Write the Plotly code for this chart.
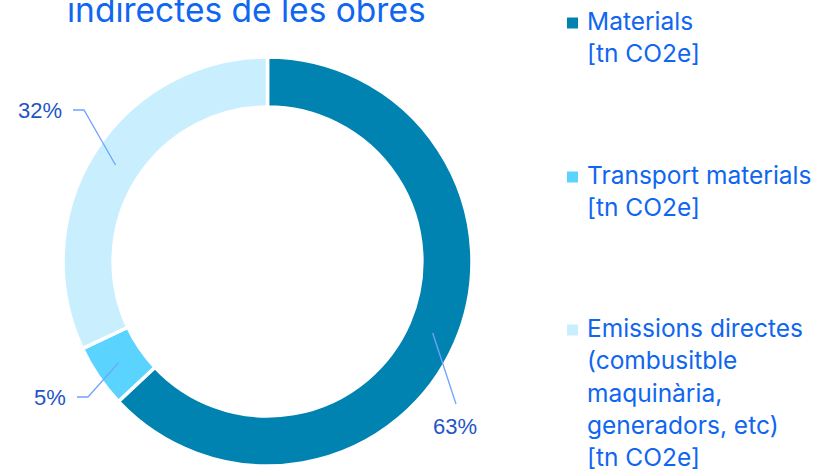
import math
import plotly.graph_objects as go

# ---- data ----
categories = ["Materials [tn CO2e]", "Transport materials [tn CO2e]",
              "Emissions directes (combusitble maquinària, generadors, etc) [tn CO2e]"]
shares = [63, 5, 32]
legend_lines = [
    ["Materials", "[tn CO2e]"],
    ["Transport materials", "[tn CO2e]"],
    ["Emissions directes", "(combusitble", "maquinària,", "generadors, etc)", "[tn CO2e]"],
]
title_text = "indirectes de les obres"

# ---- styles / layout ----
W, H = 815, 469
colors = ["#0083B0", "#5BD3FF", "#C9EFFF"]
CX, CY, R = 267.5, 261.5, 204.5
HOLE = 0.755
LBL_COLOR = "#1F55C6"
LEADER_COLOR = "#6FA3FF"
TXT_BLUE = "#0F66F0"

def px(x):
    return x / W

def py(y):
    return 1 - y / H

fig = go.Figure()
fig.add_trace(go.Pie(
    labels=categories, values=shares, hole=HOLE, sort=False,
    direction="clockwise", rotation=0,
    marker=dict(colors=colors, line=dict(color="white", width=3.5)),
    textinfo="none", showlegend=False, hoverinfo="label+percent",
    domain=dict(x=[px(CX - R), px(CX + R)], y=[py(CY + R), py(CY - R)]),
))

# data labels with leader lines (start point computed from slice mid-angle)
label_layout = [  # (elbow pt, line end pt, label pos, xanchor)
    (None, (456, 404), (455, 426), "center"),
    ((88, 397), (77, 397), (68, 397), "right"),
    ((84, 110), (73, 110), (64, 110), "right"),
]
total = sum(shares)
cum = 0
annotations = []
shapes = []
r_mid = 180
for i, v in enumerate(shares):
    mid = (cum + v / 2) / total * 2 * math.pi
    cum += v
    sx = CX + r_mid * math.sin(mid)
    sy = CY - r_mid * math.cos(mid)
    elbow, end, lpos, xa = label_layout[i]
    pts = [(sx, sy)] + ([elbow] if elbow else []) + [end]
    path = "M " + " L ".join(f"{px(a)},{py(b)}" for a, b in pts)
    shapes.append(dict(type="path", path=path, xref="paper", yref="paper",
                       line=dict(color=LEADER_COLOR, width=1.3)))
    pct = round(v / total * 100)
    annotations.append(dict(text=f"{pct}%", x=px(lpos[0]), y=py(lpos[1]),
                            xref="paper", yref="paper", xanchor=xa, yanchor="middle",
                            showarrow=False,
                            font=dict(family="Liberation Sans, Arial", size=22, color=LBL_COLOR)))

# manual legend
legend_tops = [29, 183, 336]  # baseline of first line
LINE_H = 32.3
for i, lines in enumerate(legend_lines):
    b0 = legend_tops[i]
    sq_c = b0 - 6
    shapes.append(dict(type="rect", xref="paper", yref="paper",
                       x0=px(567), x1=px(578), y0=py(sq_c + 5.5), y1=py(sq_c - 5.5),
                       fillcolor=colors[i], line=dict(width=0)))
    for j, t in enumerate(lines):
        b = b0 + j * LINE_H
        annotations.append(dict(text=t, x=px(585), y=py(b - 8), xref="paper", yref="paper",
                                xanchor="left", yanchor="middle", showarrow=False,
                                font=dict(family="Inter", size=24.5, color=TXT_BLUE)))

# title (visible line)
annotations.append(dict(text=title_text, x=px(65), y=py(10), xref="paper", yref="paper",
                        xanchor="left", yanchor="middle", showarrow=False,
                        font=dict(family="Inter", size=33.5, color=TXT_BLUE)))

fig.update_layout(width=W, height=H, margin=dict(l=0, r=0, t=0, b=0),
                  paper_bgcolor="white", plot_bgcolor="white",
                  shapes=shapes, annotations=annotations)
fig.write_html("out.html", config={"displayModeBar": False},
               post_script="document.body.style.margin='0';")
